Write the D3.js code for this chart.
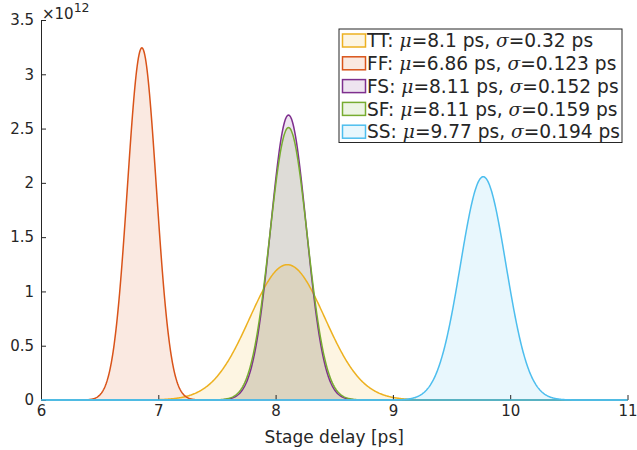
<!DOCTYPE html>
<html>
<head>
<meta charset="utf-8">
<script src="https://cdn.jsdelivr.net/npm/d3@7"></script>
<style>
  body { margin: 0; background: #fff; }
  text { font-family: "DejaVu Sans", sans-serif; fill: #262626; }
</style>
</head>
<body>
<svg id="chart" width="637" height="450"></svg>
<script>
// corners, as given in the legend
const corners = ["TT", "FF", "FS", "SF", "SS"]
const mus = [8.1, 6.86, 8.11, 8.11, 9.77]
const sigmas = [0.32, 0.123, 0.152, 0.159, 0.194]
const colors = ["#EDB120", "#D95319", "#7E2F8E", "#77AC30", "#4DBEEE"]
const muLabels = ["8.1", "6.86", "8.11", "8.11", "9.77"]
const sigmaLabels = ["0.32", "0.123", "0.152", "0.159", "0.194"]

const xTicks = [6, 7, 8, 9, 10, 11]
const yTicks = [0, 0.5, 1, 1.5, 2, 2.5, 3, 3.5]

const svg = d3.select("#chart")
const axisColor = "#262626"

const x = d3.scaleLinear().domain([6, 11]).range([41, 627.5])
const y = d3.scaleLinear().domain([0, 3.5]).range([400, 20])

// density in 1/ps == units of 1e12 per second
var pdf = function(mu, s, t) {
    return Math.exp(-0.5 * ((t - mu) / s) ** 2) / (s * Math.sqrt(2 * Math.PI))
}

const ts = d3.range(6, 11.0001, 0.005)

const series = corners.map((c, i) => ({
    name: c,
    color: colors[i],
    pts: ts.map(t => [t, pdf(mus[i], sigmas[i], t)])
}))

const area = d3.area().x(d => x(d[0])).y0(y(0)).y1(d => y(d[1]))
const line = d3.line().x(d => x(d[0])).y(d => y(d[1]))

const plot = svg.append("g")

plot.selectAll("path.fill")
    .data(series)
    .join("path")
    .classed("fill", true)
    .attr("d", d => area(d.pts))
    .attr("fill", d => d.color)
    .attr("fill-opacity", 0.13)

plot.selectAll("path.curve")
    .data(series)
    .join("path")
    .classed("curve", true)
    .attr("d", d => line(d.pts))
    .attr("fill", "none")
    .attr("stroke", d => d.color)
    .attr("stroke-width", 1.5)

// axes
const xAxis = svg.append("g")
    .attr("transform", `translate(0,${y(0)})`)
    .call(d3.axisBottom(x).tickValues(xTicks).tickSize(-5).tickFormat(d3.format("d")))
xAxis.select(".domain").remove()
xAxis.selectAll("line").attr("stroke", axisColor)
xAxis.selectAll("text").attr("font-size", 15).attr("fill", axisColor).attr("dy", "0.75em").attr("y", 5)

const yAxis = svg.append("g")
    .attr("transform", `translate(${x(6)},0)`)
    .call(d3.axisLeft(y).tickValues(yTicks).tickSize(-5).tickPadding(7).tickFormat(d3.format("")))
yAxis.select(".domain").attr("stroke", axisColor)
yAxis.selectAll("line").attr("stroke", axisColor)
yAxis.selectAll("text").attr("font-size", 15).attr("fill", axisColor)

// the last curve's baseline sits on the x spine
svg.append("line")
    .attr("x1", x(6)).attr("x2", x(11))
    .attr("y1", y(0)).attr("y2", y(0))
    .attr("stroke", colors[4]).attr("stroke-width", 1.5)

// exponent label
const expo = svg.append("text")
    .attr("x", 42).attr("y", 19)
    .attr("font-size", 15)
expo.append("tspan").text("\u00d710")
expo.append("tspan").attr("dy", -7).attr("font-size", 12.5).text("12")

svg.append("text")
    .attr("x", (x(6) + x(11)) / 2)
    .attr("y", 443)
    .attr("text-anchor", "middle")
    .attr("font-size", 17)
    .text("Stage delay [ps]")

// legend
const lg = svg.append("g").attr("transform", "translate(339,29)")
lg.append("rect")
    .attr("width", 283).attr("height", 113.5)
    .attr("fill", "#fff")
    .attr("stroke", axisColor)
    .attr("stroke-width", 1)

const rows = lg.selectAll("g.row")
    .data(series)
    .join("g")
    .classed("row", true)
    .attr("transform", (d, i) => `translate(0,${11.5 + i * 22.8})`)

rows.append("rect")
    .attr("x", 3.5).attr("y", -6.5)
    .attr("width", 23).attr("height", 13)
    .attr("fill", "#fff")
rows.append("rect")
    .attr("x", 3.5).attr("y", -6.5)
    .attr("width", 23).attr("height", 13)
    .attr("fill", d => d.color).attr("fill-opacity", 0.13)
    .attr("stroke", d => d.color).attr("stroke-width", 1.5)

const lt = rows.append("text")
    .attr("x", 28).attr("y", 0)
    .attr("dy", "0.36em")
    .attr("font-size", 18.6)
lt.append("tspan").text((d, i) => corners[i] + ": ")
lt.append("tspan").attr("font-family", "DejaVu Serif").attr("font-style", "italic").text("\u03bc")
lt.append("tspan").text((d, i) => "=" + muLabels[i] + " ps, ")
lt.append("tspan").attr("font-family", "DejaVu Serif").attr("font-style", "italic").text("\u03c3")
lt.append("tspan").text((d, i) => "=" + sigmaLabels[i] + " ps")
</script>
</body>
</html>
